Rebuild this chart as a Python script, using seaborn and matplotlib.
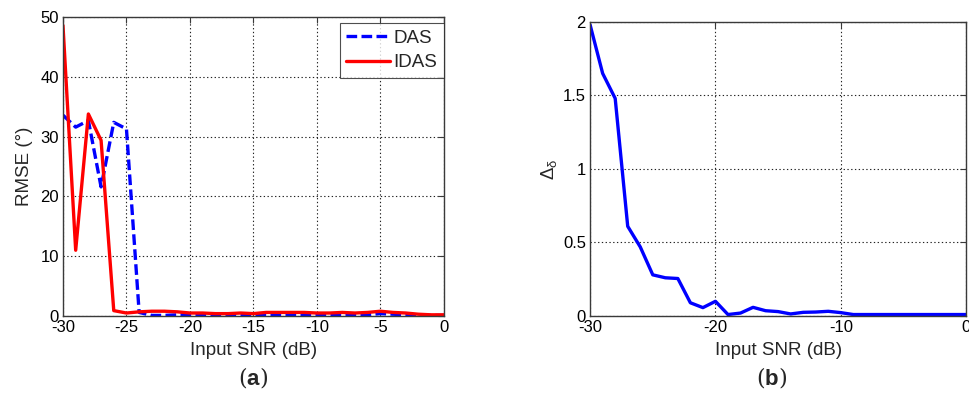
import numpy as np
import pandas as pd
import matplotlib
matplotlib.use("Agg")
import matplotlib.pyplot as plt
import seaborn as sns

# Input SNR sweep (dB)
snr = [-30, -29, -28, -27, -26, -25, -24, -23, -22, -21, -20,
       -19, -18, -17, -16, -15, -14, -13, -12, -11, -10,
       -9, -8, -7, -6, -5, -4, -3, -2, -1, 0]

# RMSE (degrees) of the two beamformers
rmse_das = [33.6, 31.6, 32.7, 21.6, 32.4, 31.3, 0.6, 0.1, 0.1, 0.2, 0.2,
            0.2, 0.2, 0.2, 0.2, 0.2, 0.2, 0.2, 0.2, 0.2, 0.2,
            0.2, 0.2, 0.2, 0.2, 0.4, 0.3, 0.2, 0.1, 0.1, 0.1]
rmse_idas = [48.6, 11.0, 33.8, 29.4, 0.9, 0.5, 0.7, 0.8, 0.8, 0.7, 0.5,
             0.5, 0.4, 0.4, 0.5, 0.4, 0.6, 0.6, 0.6, 0.6, 0.5,
             0.5, 0.6, 0.5, 0.6, 0.8, 0.6, 0.5, 0.3, 0.2, 0.2]

# Delta_delta metric
delta = [1.98, 1.65, 1.48, 0.61, 0.47, 0.28, 0.26, 0.255, 0.09, 0.057, 0.10,
         0.01, 0.02, 0.059, 0.036, 0.03, 0.014, 0.025, 0.027, 0.032, 0.023,
         0.01, 0.01, 0.01, 0.01, 0.01, 0.01, 0.01, 0.01, 0.01, 0.01]

left_xticks = [-30, -25, -20, -15, -10, -5, 0]
left_yticks = [0, 10, 20, 30, 40, 50]
right_xticks = [-30, -20, -10, 0]
right_yticks = [0, 0.5, 1, 1.5, 2]
right_yticklabels = ["0", "0.5", "1", "1.5", "2"]

sns.set_style("white")
plt.rcParams["font.family"] = ["Liberation Sans", "DejaVu Sans"]
plt.rcParams["mathtext.fontset"] = "custom"
plt.rcParams["mathtext.rm"] = "Liberation Sans"
plt.rcParams["mathtext.it"] = "Liberation Sans"
plt.rcParams["mathtext.bf"] = "Liberation Sans:bold"
plt.rcParams["axes.unicode_minus"] = False

fig = plt.figure(figsize=(9.69, 3.99), dpi=100)
ax1 = fig.add_axes([0.065, 0.208, 0.393, 0.749])
ax2 = fig.add_axes([0.609, 0.208, 0.388, 0.737])

df_rmse = pd.DataFrame({
    "snr": snr * 2,
    "rmse": rmse_das + rmse_idas,
    "method": ["DAS"] * len(snr) + ["IDAS"] * len(snr),
})
df_delta = pd.DataFrame({"snr": snr, "delta": delta})

grid_kw = dict(color="#222222", linestyle=(0, (1.2, 2.2)), linewidth=0.8)
TICK_FS = 12
LABEL_FS = 13.5


def style_axes(ax):
    ax.grid(True, **grid_kw)
    ax.set_axisbelow(True)
    for s in ax.spines.values():
        s.set_visible(True)
        s.set_color("#3a3a3a")
        s.set_linewidth(1.0)
    ax.tick_params(direction="in", top=True, right=True, length=4,
                   width=0.8, color="#3a3a3a", labelsize=TICK_FS,
                   labelcolor="black", pad=3)


# (a) RMSE vs input SNR
sns.lineplot(data=df_rmse, x="snr", y="rmse", hue="method", style="method",
             palette={"DAS": "#0000ff", "IDAS": "#ff0000"},
             dashes={"DAS": (3.2, 1.3), "IDAS": ""},
             linewidth=2.4, ax=ax1)
ax1.set_xlim(-30, 0)
ax1.set_ylim(0, 50)
ax1.set_xticks(left_xticks)
ax1.set_yticks(left_yticks)
ax1.set_xlabel("Input SNR (dB)", fontsize=LABEL_FS, labelpad=5)
ax1.set_ylabel("RMSE (°)", fontsize=LABEL_FS, labelpad=5)
style_axes(ax1)
leg = ax1.legend(loc="upper right", bbox_to_anchor=(1.0, 0.98),
                 fontsize=13.5, frameon=True, fancybox=False,
                 borderpad=0.35, handlelength=2.3, handletextpad=0.2,
                 labelspacing=0.38, borderaxespad=0.0)
leg.get_frame().set_edgecolor("#222222")
leg.get_frame().set_linewidth(0.8)

# (b) Delta vs input SNR
sns.lineplot(data=df_delta, x="snr", y="delta", color="#0000ff",
             linewidth=2.4, ax=ax2)
ax2.set_xlim(-30, 0)
ax2.set_ylim(0, 2)
ax2.set_xticks(right_xticks)
ax2.set_yticks(right_yticks)
ax2.set_yticklabels(right_yticklabels)
ax2.set_xlabel("Input SNR (dB)", fontsize=LABEL_FS, labelpad=5)
ax2.set_ylabel(r"$\Delta_{\delta}$", fontsize=LABEL_FS, labelpad=3)
style_axes(ax2)

# panel captions
fig.text(0.261, 0.055, r"($\mathbf{a}$)", ha="center", va="center",
         fontsize=16, family="DejaVu Serif")
fig.text(0.796, 0.055, r"($\mathbf{b}$)", ha="center", va="center",
         fontsize=16, family="DejaVu Serif")

fig.savefig("out.png", dpi=100)
